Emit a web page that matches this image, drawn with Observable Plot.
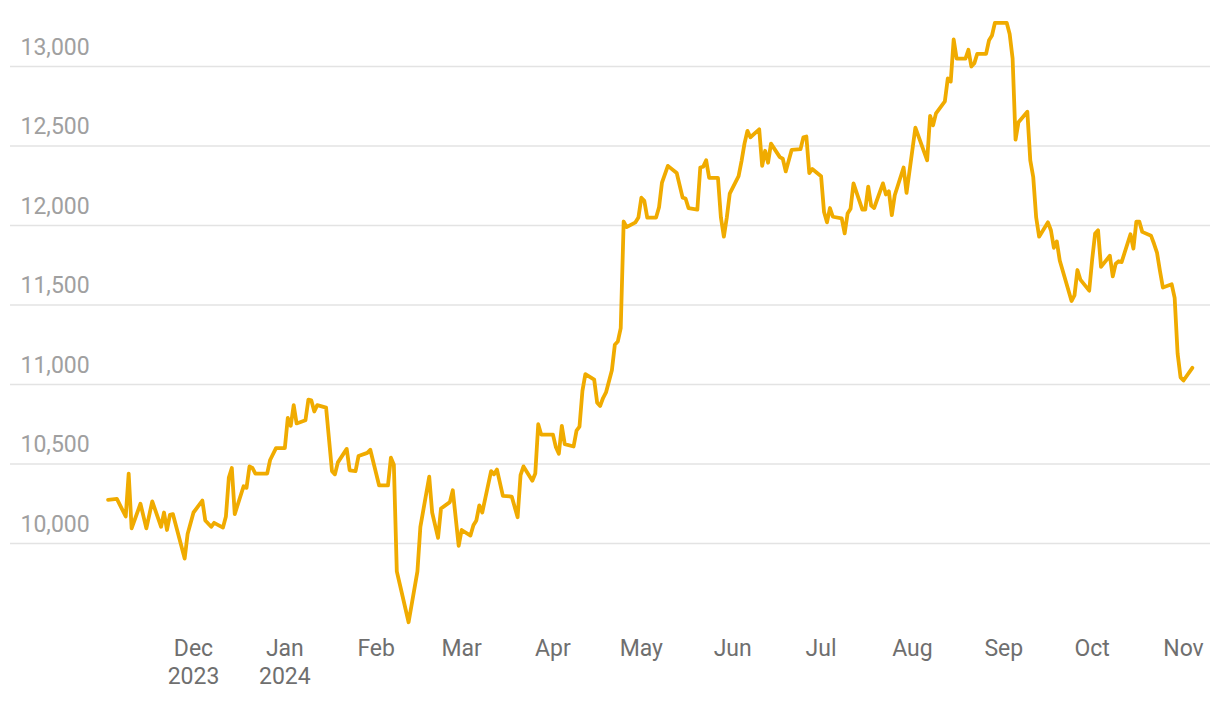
<!DOCTYPE html>
<html>
<head>
<meta charset="utf-8">
<script src="https://cdn.jsdelivr.net/npm/d3@7"></script>
<script src="https://cdn.jsdelivr.net/npm/@observablehq/plot@0.6"></script>
<style>
  html, body { margin: 0; padding: 0; background: #ffffff; }
  #chart svg { display: block; }
</style>
</head>
<body>
<div id="chart"></div>
<script>
const dates = [
  "2023-11-02","2023-11-05","2023-11-08","2023-11-09","2023-11-10","2023-11-13","2023-11-15","2023-11-17","2023-11-20","2023-11-21",
  "2023-11-22","2023-11-23","2023-11-24","2023-11-28","2023-11-29","2023-12-01","2023-12-04","2023-12-05","2023-12-07","2023-12-08",
  "2023-12-11","2023-12-12","2023-12-13","2023-12-14","2023-12-15","2023-12-18","2023-12-19","2023-12-20","2023-12-21","2023-12-22",
  "2023-12-26","2023-12-27","2023-12-29","2024-01-01","2024-01-02","2024-01-03","2024-01-04","2024-01-05","2024-01-08","2024-01-09",
  "2024-01-10","2024-01-11","2024-01-12","2024-01-15","2024-01-17","2024-01-18","2024-01-19","2024-01-22","2024-01-23","2024-01-25",
  "2024-01-26","2024-01-29","2024-01-30","2024-02-02","2024-02-05","2024-02-06","2024-02-07","2024-02-08","2024-02-09","2024-02-12",
  "2024-02-15","2024-02-16","2024-02-19","2024-02-20","2024-02-22","2024-02-23","2024-02-26","2024-02-27","2024-02-29","2024-03-01",
  "2024-03-04","2024-03-05","2024-03-06","2024-03-07","2024-03-08","2024-03-11","2024-03-12","2024-03-13","2024-03-15","2024-03-18",
  "2024-03-20","2024-03-21","2024-03-22","2024-03-25","2024-03-26","2024-03-27","2024-03-28","2024-04-01","2024-04-02","2024-04-03",
  "2024-04-04","2024-04-05","2024-04-08","2024-04-09","2024-04-10","2024-04-11","2024-04-12","2024-04-15","2024-04-16","2024-04-17",
  "2024-04-18","2024-04-19","2024-04-21","2024-04-22","2024-04-23","2024-04-24","2024-04-25","2024-04-26","2024-04-29","2024-04-30",
  "2024-05-01","2024-05-02","2024-05-03","2024-05-06","2024-05-07","2024-05-08","2024-05-10","2024-05-13","2024-05-15","2024-05-16",
  "2024-05-17","2024-05-20","2024-05-21","2024-05-22","2024-05-23","2024-05-24","2024-05-27","2024-05-28","2024-05-29","2024-05-30",
  "2024-05-31","2024-06-03","2024-06-04","2024-06-05","2024-06-06","2024-06-07","2024-06-10","2024-06-11","2024-06-12","2024-06-13",
  "2024-06-14","2024-06-17","2024-06-18","2024-06-19","2024-06-21","2024-06-24","2024-06-25","2024-06-26","2024-06-27","2024-06-28",
  "2024-07-01","2024-07-02","2024-07-03","2024-07-04","2024-07-05","2024-07-08","2024-07-09","2024-07-10","2024-07-11","2024-07-12",
  "2024-07-15","2024-07-16","2024-07-17","2024-07-18","2024-07-19","2024-07-22","2024-07-23","2024-07-24","2024-07-25","2024-07-26",
  "2024-07-29","2024-07-30","2024-08-02","2024-08-06","2024-08-07","2024-08-08","2024-08-09","2024-08-12","2024-08-13","2024-08-14",
  "2024-08-15","2024-08-16","2024-08-19","2024-08-20","2024-08-21","2024-08-22","2024-08-23","2024-08-26","2024-08-27","2024-08-28",
  "2024-08-29","2024-09-02","2024-09-03","2024-09-04","2024-09-05","2024-09-06","2024-09-09","2024-09-10","2024-09-11","2024-09-12",
  "2024-09-13","2024-09-16","2024-09-17","2024-09-18","2024-09-19","2024-09-20","2024-09-24","2024-09-25","2024-09-26","2024-09-27",
  "2024-09-30","2024-10-01","2024-10-02","2024-10-03","2024-10-04","2024-10-07","2024-10-08","2024-10-09","2024-10-10","2024-10-11",
  "2024-10-14","2024-10-15","2024-10-16","2024-10-17","2024-10-18","2024-10-21","2024-10-22","2024-10-23","2024-10-24","2024-10-25",
  "2024-10-28","2024-10-29","2024-10-30","2024-10-31","2024-11-01","2024-11-04"
];
const values = [
  10275,10280,10170,10440,10095,10250,10095,10265,10105,10195,
  10085,10180,10185,9905,10060,10195,10270,10145,10105,10130,
  10100,10170,10415,10475,10185,10360,10350,10485,10475,10440,
  10440,10525,10600,10600,10790,10740,10870,10755,10775,10905,
  10900,10830,10870,10855,10455,10435,10510,10595,10460,10455,
  10550,10570,10590,10365,10365,10540,10495,9825,9745,9505,
  9825,10105,10420,10195,10035,10220,10260,10335,9985,10085,
  10050,10115,10145,10240,10195,10455,10435,10465,10300,10295,
  10165,10430,10485,10395,10440,10750,10685,10685,10605,10565,
  10740,10625,10610,10710,10735,10960,11065,11030,10885,10865,
  10915,10950,11090,11250,11270,11355,12025,11990,12020,12050,
  12175,12155,12050,12050,12115,12270,12375,12330,12175,12170,
  12110,12100,12365,12370,12410,12300,12300,12050,11930,12050,
  12200,12310,12405,12515,12595,12555,12605,12375,12470,12395,
  12515,12430,12420,12340,12475,12480,12555,12560,12330,12355,
  12310,12085,12020,12110,12055,12045,11950,12075,12105,12265,
  12100,12100,12245,12125,12110,12265,12195,12215,12065,12190,
  12365,12205,12615,12410,12690,12630,12705,12780,12925,12905,
  13170,13050,13050,13105,13000,13020,13080,13080,13165,13195,
  13275,13275,13205,13050,12540,12650,12715,12410,12305,12050,
  11930,12020,11970,11860,11900,11780,11525,11560,11720,11660,
  11590,11785,11950,11970,11740,11810,11680,11760,11775,11770,
  11945,11855,12025,12025,11960,11935,11885,11830,11715,11610,
  11630,11545,11195,11045,11025,11105
];
const yTicks = [10000, 10500, 11000, 11500, 12000, 12500, 13000];
const xTicks = ["2023-12-01","2024-01-01","2024-02-01","2024-03-01","2024-04-01","2024-05-01",
                "2024-06-01","2024-07-01","2024-08-01","2024-09-01","2024-10-01","2024-11-01"];
const xTickLabels = ["Dec\n2023","Jan\n2024","Feb","Mar","Apr","May","Jun","Jul","Aug","Sep","Oct","Nov"];

const data = dates.map((d, i) => ({date: new Date(d), value: values[i]}));
const tickDates = xTicks.map(d => new Date(d));
const labelFor = new Map(tickDates.map((d, i) => [+d, xTickLabels[i]]));

const chart = Plot.plot({
  width: 1220,
  height: 702,
  marginLeft: 10,
  marginRight: 10,
  marginTop: 0,
  marginBottom: 72,
  style: {fontFamily: "Roboto, sans-serif", background: "#ffffff"},
  x: {type: "utc", domain: [tickDates[0], tickDates[tickDates.length - 1]], range: [193, 1183]},
  y: {domain: [10000, 13000], range: [543, 66]},
  marks: [
    Plot.gridY(yTicks, {stroke: "#e3e3e3", strokeOpacity: 1, strokeWidth: 1.6}),
    Plot.axisY(yTicks, {
      anchor: "left", tickSize: 0, tickPadding: 0, textAnchor: "start", lineAnchor: "bottom",
      dx: 10, dy: -12, fontSize: 23, fill: "#a0a0a0", tickFormat: d3.format(","), label: null
    }),
    Plot.axisX(tickDates, {
      anchor: "bottom", tickSize: 0, tickPadding: 5, fontSize: 23, fill: "#6f6f6f",
      lineHeight: 1.24, tickFormat: d => labelFor.get(+d), label: null
    }),
    Plot.lineY(data, {x: "date", y: "value", stroke: "#F0AB00", strokeWidth: 3.8, strokeLinejoin: "round", strokeLinecap: "round"})
  ]
});
document.getElementById("chart").appendChild(chart);
</script>
</body>
</html>
